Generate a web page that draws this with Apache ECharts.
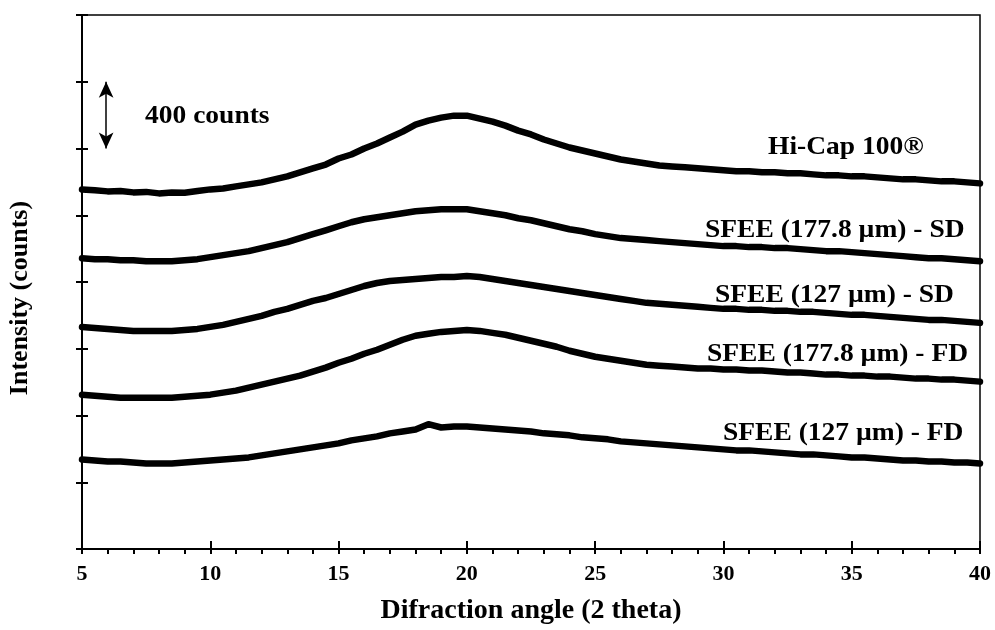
<!DOCTYPE html>
<html>
<head>
<meta charset="utf-8">
<script src="https://cdn.jsdelivr.net/npm/echarts@6/dist/echarts.min.js"></script>
<style>
html,body{margin:0;padding:0;background:#fff;}
#chart{width:995px;height:630px;}
</style>
</head>
<body>
<div id="chart"></div>
<script>
// 2-theta angles, 5 to 40 step 0.5
var angles = [];
for (var i = 0; i <= 70; i++) angles.push(5 + i * 0.5);

var hiCap = [2155,2150,2143,2145,2137,2140,2131,2137,2135,2145,2155,2160,2173,2185,2197,2215,2233,2257,2281,2304,2340,2364,2400,2430,2466,2501,2543,2567,2585,2597,2597,2579,2561,2537,2507,2484,2454,2430,2406,2388,2370,2352,2334,2322,2310,2298,2292,2287,2281,2275,2269,2263,2263,2257,2257,2251,2251,2245,2239,2239,2233,2233,2227,2221,2215,2215,2209,2203,2203,2197,2191];
var sd178 = [1743,1737,1737,1731,1731,1725,1725,1725,1731,1737,1749,1761,1773,1785,1803,1821,1839,1863,1887,1910,1934,1958,1976,1988,2000,2012,2024,2030,2036,2036,2036,2024,2012,2000,1982,1970,1952,1934,1916,1904,1887,1875,1863,1857,1851,1845,1839,1833,1827,1821,1815,1815,1809,1809,1803,1803,1797,1791,1785,1785,1779,1773,1767,1761,1755,1749,1743,1743,1737,1731,1725];
var sd127 = [1331,1325,1319,1313,1307,1307,1307,1307,1313,1319,1331,1343,1361,1379,1397,1421,1439,1463,1487,1504,1528,1552,1576,1594,1606,1612,1618,1624,1630,1630,1636,1630,1618,1606,1594,1582,1570,1558,1546,1534,1522,1510,1498,1487,1475,1469,1463,1457,1451,1445,1439,1439,1433,1433,1427,1427,1421,1421,1415,1409,1403,1403,1397,1391,1385,1379,1373,1373,1367,1361,1355];
var fd178 = [925,919,913,907,907,907,907,907,913,919,925,937,949,967,985,1003,1021,1039,1063,1087,1116,1140,1170,1194,1224,1254,1278,1290,1301,1307,1313,1307,1295,1284,1266,1248,1230,1212,1188,1170,1152,1140,1128,1116,1104,1098,1093,1087,1081,1081,1075,1075,1069,1069,1063,1057,1057,1051,1045,1045,1039,1039,1033,1033,1027,1021,1021,1015,1015,1009,1003];
var fd127 = [537,531,525,525,519,513,513,513,519,525,531,537,543,549,561,573,585,597,609,621,633,651,663,675,693,704,716,748,728,734,734,728,722,716,710,704,693,687,681,669,663,657,645,639,633,627,621,615,609,603,597,591,591,585,579,573,567,567,561,555,549,549,543,537,531,531,525,525,519,519,513];

var seriesNames = ['Hi-Cap 100®','SFEE (177.8 µm) - SD','SFEE (127 µm) - SD','SFEE (177.8 µm) - FD','SFEE (127 µm) - FD'];
var seriesData = [hiCap, sd178, sd127, fd178, fd127];

var yMin = 0, yMax = 3200, yStep = 400;
var scaleBarAngle = 5.94;
var scaleBar = [2400, 2800]; // 400 counts

function pairs(arr){ return arr.map(function(v,i){ return [angles[i], v]; }); }

var FONT = '"Liberation Serif","Times New Roman",serif';
var chart = echarts.init(document.getElementById('chart'), null, {renderer:'canvas'});

var series = seriesData.map(function(d, k){
  return {
    name: seriesNames[k], type:'line', data: pairs(d), showSymbol:false, symbol:'none',
    lineStyle:{color:'#000', width:6.5, join:'round', cap:'round'}, silent:true, animation:false, z:3
  };
});
series.push({
  type:'line', data:[], silent:true, animation:false,
  markLine:{
    silent:true, symbol:['arrow','arrow'], symbolSize:[11,16], label:{show:false},
    lineStyle:{color:'#000', width:1.5, type:'solid'},
    data:[[{coord:[scaleBarAngle, scaleBar[1]]},{coord:[scaleBarAngle, scaleBar[0]]}]]
  }
});

function lbl(text, x, y){
  return {type:'text', x:x, y:y, scaleX:1.1, style:{text:text, font:'bold 25px '+FONT, fill:'#000', align:'left', verticalAlign:'middle'}};
}

var axisCommonY = {type:'value', min:yMin, max:yMax, interval:yStep, splitLine:{show:false}, axisLabel:{show:false}};
chart.setOption({
  animation:false,
  backgroundColor:'#fff',
  grid:{left:82, right:15, top:15, bottom:79, show:true, borderColor:'#000', borderWidth:1.5},
  xAxis:[{
    type:'value', min:5, max:40, interval:5,
    axisLine:{lineStyle:{color:'#000', width:2}},
    axisTick:{inside:true, length:8, lineStyle:{color:'#000', width:2}},
    splitLine:{show:false},
    axisLabel:{color:'#000', fontFamily:FONT, fontWeight:'bold', fontSize:22, margin:14},
    name:'Difraction angle (2 theta)', nameLocation:'middle', nameGap:48,
    nameTextStyle:{color:'#000', fontFamily:FONT, fontWeight:'bold', fontSize:28}
  },{
    type:'value', min:5, max:40, interval:1, position:'bottom',
    axisLine:{show:false}, axisLabel:{show:false}, splitLine:{show:false},
    axisTick:{inside:false, length:5, lineStyle:{color:'#000', width:2}}
  }],
  yAxis:[Object.assign({}, axisCommonY, {
    axisLine:{lineStyle:{color:'#000', width:2}},
    axisTick:{inside:true, length:6, lineStyle:{color:'#000', width:2}}
  }), Object.assign({}, axisCommonY, {
    position:'left', axisLine:{show:false},
    axisTick:{inside:false, length:6, lineStyle:{color:'#000', width:2}}
  })],
  series: series,
  graphic:[
    {type:'text', x:145, y:117, scaleX:1.1, style:{text:'400 counts', font:'bold 25px '+FONT, fill:'#000', align:'left', verticalAlign:'middle'}},
    {type:'text', x:20, y:298, rotation:Math.PI/2, style:{text:'Intensity (counts)', font:'bold 26px '+FONT, fill:'#000', align:'center', verticalAlign:'middle'}},
    lbl(seriesNames[0], 768, 148),
    lbl(seriesNames[1], 705, 231),
    lbl(seriesNames[2], 715, 296),
    lbl(seriesNames[3], 707, 355),
    lbl(seriesNames[4], 723, 434)
  ]
});
</script>
</body>
</html>
